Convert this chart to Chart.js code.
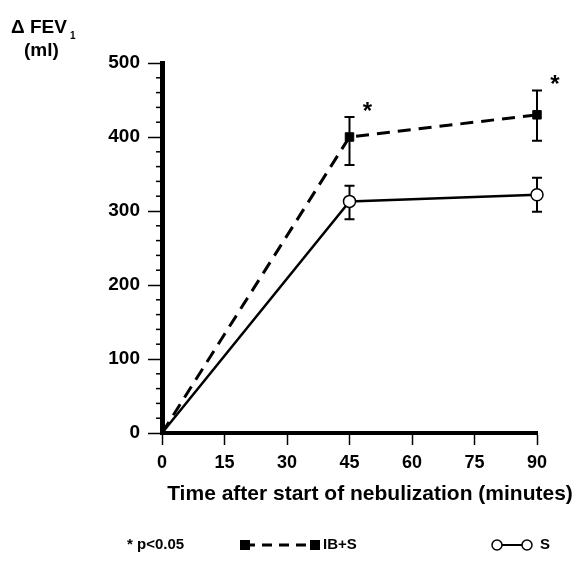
<!DOCTYPE html>
<html><head><meta charset="utf-8">
<script src="https://cdn.jsdelivr.net/npm/chart.js@4/dist/chart.umd.min.js"></script>
<style>html,body{margin:0;padding:0;background:#fff}#wrap{width:585px;height:567px;position:relative}</style>
</head><body><div id="wrap"><canvas id="c" width="585" height="567"></canvas></div>
<script>
// ---- data ----
const times = [0, 45, 90];                 // minutes after start of nebulization
const ibsMean  = [0, 400, 430];            // IB+S  ΔFEV1 (ml)
const ibsUpper = [0, 427, 463];
const ibsLower = [0, 362, 395];
const sMean  = [0, 313, 322];              // S  ΔFEV1 (ml)
const sUpper = [0, 334, 345];
const sLower = [0, 289, 299];
const significant = [false, true, true];   // * p<0.05 for IB+S
const xTicks = [0, 15, 30, 45, 60, 75, 90];
const yTicks = [0, 100, 200, 300, 400, 500];
const yMinorStep = 20;

const FONT = '"Liberation Sans", Arial, Helvetica, sans-serif';

const toPts = (xs, ys) => xs.map((x, i) => ({x: x, y: ys[i]}));

const errorBars = {
  id: 'errorBars',
  beforeDatasetsDraw(chart) {
    const {ctx, scales: {x, y}} = chart;
    const sets = [[ibsUpper, ibsLower], [sUpper, sLower]];
    ctx.save();
    ctx.strokeStyle = '#000';
    ctx.lineWidth = 2;
    sets.forEach(([up, lo]) => {
      times.forEach((t, i) => {
        if (up[i] === lo[i]) return;
        const px = x.getPixelForValue(t);
        const pu = y.getPixelForValue(up[i]);
        const pl = y.getPixelForValue(lo[i]);
        ctx.beginPath();
        ctx.moveTo(px, pu); ctx.lineTo(px, pl);
        ctx.moveTo(px - 5, pu); ctx.lineTo(px + 5, pu);
        ctx.moveTo(px - 5, pl); ctx.lineTo(px + 5, pl);
        ctx.stroke();
      });
    });
    ctx.restore();
  },
  afterDatasetsDraw(chart) {
    const {ctx, scales: {x, y}} = chart;
    ctx.save();
    ctx.fillStyle = '#000';
    ctx.font = 'bold 24px ' + FONT;
    ctx.textAlign = 'center';
    ctx.textBaseline = 'middle';
    times.forEach((t, i) => {
      if (!significant[i]) return;
      ctx.fillText('*', x.getPixelForValue(t) + 18, y.getPixelForValue(ibsUpper[i]) - 5);
    });
    ctx.restore();
  },
  afterDraw(chart) {
    const {ctx, scales: {x, y}, chartArea} = chart;
    ctx.save();
    // minor y ticks
    ctx.strokeStyle = '#000';
    ctx.lineWidth = 1.5;
    for (let v = 0; v <= 500; v += yMinorStep) {
      if (v % 100 === 0) continue;
      const py = y.getPixelForValue(v);
      ctx.beginPath();
      ctx.moveTo(chartArea.left - 6, py);
      ctx.lineTo(chartArea.left, py);
      ctx.stroke();
    }
    ctx.fillStyle = '#000';
    // y title
    ctx.textBaseline = 'alphabetic';
    ctx.textAlign = 'left';
    ctx.font = 'bold 19px ' + FONT;
    ctx.fillText('\u0394 FEV', 11, 33);
    const w = ctx.measureText('\u0394 FEV').width;
    ctx.font = 'bold 10px ' + FONT;
    ctx.fillText('1', 11 + w + 3, 39);
    ctx.font = 'bold 19px ' + FONT;
    ctx.fillText('(ml)', 24, 56);
    // x title
    ctx.textAlign = 'center';
    ctx.textBaseline = 'middle';
    ctx.font = 'bold 21px ' + FONT;
    ctx.fillText('Time after start of nebulization (minutes)', 370, 494);
    // legend
    const ly = 545;
    ctx.font = 'bold 15px ' + FONT;
    ctx.textAlign = 'left';
    ctx.fillText('* p<0.05', 127, ly);
    // IB+S
    ctx.lineWidth = 3;
    ctx.setLineDash([10, 7]);
    ctx.beginPath(); ctx.moveTo(245, ly); ctx.lineTo(315, ly); ctx.stroke();
    ctx.setLineDash([]);
    ctx.fillRect(240, ly - 5, 10, 10);
    ctx.fillRect(310, ly - 5, 10, 10);
    ctx.fillText('IB+S', 323, ly);
    // S
    ctx.lineWidth = 2;
    ctx.beginPath(); ctx.moveTo(497, ly); ctx.lineTo(527, ly); ctx.stroke();
    ctx.lineWidth = 1.5;
    [497, 527].forEach(cx => {
      ctx.beginPath(); ctx.arc(cx, ly, 5, 0, Math.PI * 2);
      ctx.fillStyle = '#fff'; ctx.fill(); ctx.stroke();
    });
    ctx.fillStyle = '#000';
    ctx.fillText('S', 540, ly);
    ctx.restore();
  }
};

new Chart(document.getElementById('c'), {
  type: 'line',
  data: {
    datasets: [
      {
        label: 'IB+S',
        data: toPts(times, ibsMean),
        clip: false,
        borderColor: '#000',
        borderWidth: 3,
        borderDash: [13, 8],
        pointStyle: 'rect',
        pointRadius: [0, 6, 6],
        pointBackgroundColor: '#000',
        pointBorderColor: '#000',
        pointBorderWidth: 1,
        tension: 0,
        fill: false
      },
      {
        label: 'S',
        data: toPts(times, sMean),
        clip: false,
        borderColor: '#000',
        borderWidth: 2.5,
        pointStyle: 'circle',
        pointRadius: [0, 6, 6],
        pointBackgroundColor: '#fff',
        pointBorderColor: '#000',
        pointBorderWidth: 1.5,
        tension: 0,
        fill: false
      }
    ]
  },
  options: {
    responsive: false,
    animation: false,
    devicePixelRatio: 1,
    layout: {padding: {left: 10, right: 48, top: 63, bottom: 0}},
    plugins: {legend: {display: false}, tooltip: {enabled: false}},
    scales: {
      x: {
        type: 'linear', min: 0, max: 90,
        afterFit: s => { s.height = 134; },
        afterBuildTicks: s => { s.ticks = xTicks.map(v => ({value: v})); },
        border: {display: true, color: '#000', width: 4},
        grid: {drawOnChartArea: false, drawTicks: true, tickLength: 12, color: '#000', tickWidth: 1.5},
        ticks: {color: '#000', padding: 7, font: {family: FONT, size: 18, weight: 'bold'}}
      },
      y: {
        type: 'linear', min: 0, max: 500,
        afterFit: s => { s.width = 152; },
        afterBuildTicks: s => { s.ticks = yTicks.map(v => ({value: v})); },
        border: {display: true, color: '#000', width: 5},
        grid: {drawOnChartArea: false, drawTicks: true, tickLength: 14, color: '#000', tickWidth: 1.5},
        ticks: {color: '#000', padding: 8, font: {family: FONT, size: 19, weight: 'bold'}}
      }
    }
  },
  plugins: [errorBars]
});
</script></body></html>
